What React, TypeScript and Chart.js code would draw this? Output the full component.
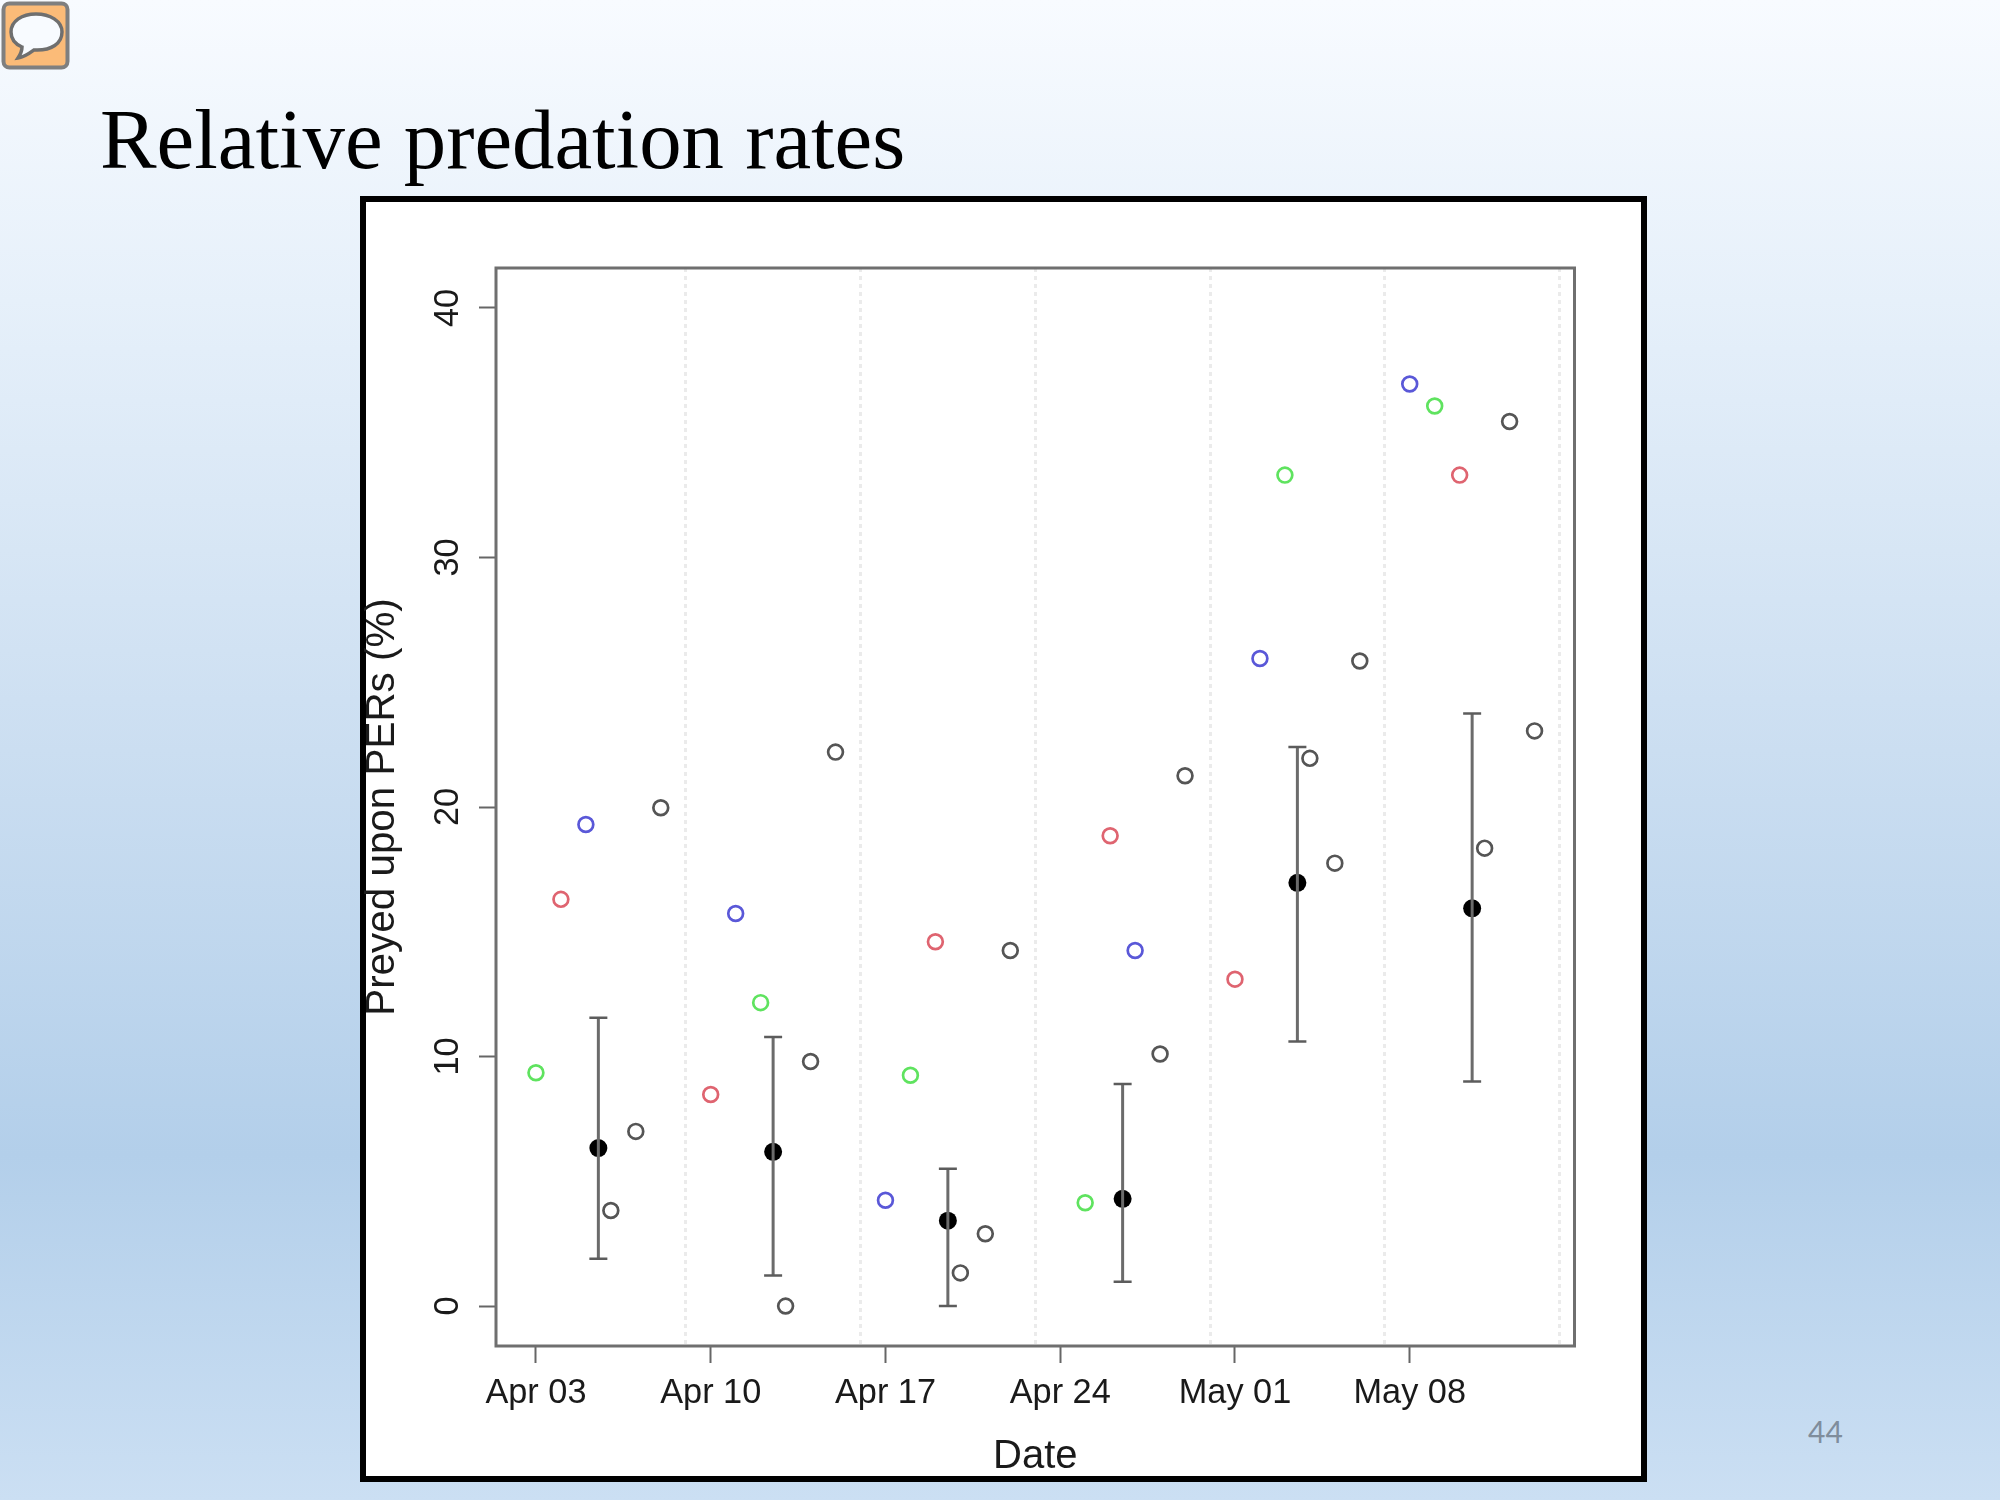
import React, { useEffect, useRef } from "react";
import { Chart, registerables } from "chart.js";

Chart.register(...registerables);

const PAGE_TITLE = "Relative predation rates";
const PAGE_NUMBER = "44";
const X_TITLE = "Date";
const Y_TITLE = "Preyed upon PERs (%)";

const tickDays = [0, 7, 14, 21, 28, 35];
const tickLabels = ["Apr 03", "Apr 10", "Apr 17", "Apr 24", "May 01", "May 08"];
const gridDays = [6, 13, 20, 27, 34, 41];
const yTicks = [0, 10, 20, 30, 40];

const greenPoints = [
  { x: 0, y: 9.35 }, { x: 9, y: 12.16 }, { x: 15, y: 9.25 },
  { x: 22, y: 4.14 }, { x: 30, y: 33.3 }, { x: 36, y: 36.07 },
];
const redPoints = [
  { x: 1, y: 16.3 }, { x: 7, y: 8.48 }, { x: 16, y: 14.6 },
  { x: 23, y: 18.85 }, { x: 28, y: 13.1 }, { x: 37, y: 33.3 },
];
const bluePoints = [
  { x: 2, y: 19.3 }, { x: 8, y: 15.73 }, { x: 14, y: 4.24 },
  { x: 24, y: 14.25 }, { x: 29, y: 25.95 }, { x: 35, y: 36.95 },
];
const grayPoints = [
  { x: 3, y: 3.83 }, { x: 4, y: 7.0 }, { x: 5, y: 19.97 },
  { x: 10, y: 0 }, { x: 11, y: 9.8 }, { x: 12, y: 22.2 },
  { x: 17, y: 1.33 }, { x: 18, y: 2.9 }, { x: 19, y: 14.25 },
  { x: 25, y: 10.1 }, { x: 26, y: 21.25 },
  { x: 31, y: 21.95 }, { x: 32, y: 17.75 }, { x: 33, y: 25.85 },
  { x: 38, y: 18.35 }, { x: 39, y: 35.45 }, { x: 40, y: 23.05 },
];
const meanDays = [2.5, 9.5, 16.5, 23.5, 30.5, 37.5];
const meanValues = [6.33, 6.18, 3.42, 4.3, 16.96, 15.94];
const lowValues = [1.9, 1.23, 0, 0.97, 10.6, 9.0];
const highValues = [11.55, 10.78, 5.5, 8.9, 22.4, 23.75];

const X_MIN = -1.6;
const X_MAX = 41.6;
const Y_MIN = -1.6;
const Y_MAX = 41.6;

const ring = (color: string) => ({
  showLine: false,
  pointStyle: "circle",
  pointRadius: 7.4,
  pointBorderWidth: 2.7,
  pointBorderColor: color,
  pointBackgroundColor: "rgba(0,0,0,0)",
});

const plotBox = {
  id: "plotBox",
  afterDraw(chart: any) {
    const { ctx, chartArea: a } = chart;
    ctx.save();
    ctx.strokeStyle = "#6f6f6f";
    ctx.lineWidth = 3;
    ctx.strokeRect(a.left, a.top, a.right - a.left, a.bottom - a.top);
    ctx.restore();
  },
};

export default function App() {
  const ref = useRef<HTMLCanvasElement | null>(null);

  useEffect(() => {
    document.body.style.margin = "0";
    const errorPoints: any[] = [];
    meanDays.forEach((d, i) => {
      errorPoints.push({ x: d, y: lowValues[i] }, { x: d, y: highValues[i] }, { x: d, y: null });
    });
    const chart = new Chart(ref.current as HTMLCanvasElement, {
      type: "scatter",
      plugins: [plotBox],
      data: {
        datasets: [
          {
            label: "Standard error",
            data: errorPoints,
            showLine: true,
            spanGaps: false,
            borderColor: "#6b6b6b",
            borderWidth: 3,
            pointStyle: "line",
            pointRadius: 9,
            pointBorderWidth: 2.5,
            pointBorderColor: "#5c5c5c",
          },
          { label: "Green", data: greenPoints, ...ring("#5fe35f") },
          { label: "Red", data: redPoints, ...ring("#df6470") },
          { label: "Blue", data: bluePoints, ...ring("#5a58d8") },
          { label: "Other", data: grayPoints, ...ring("#555555") },
          {
            label: "Mean",
            data: meanDays.map((d, i) => ({ x: d, y: meanValues[i] })),
            showLine: false,
            pointRadius: 9,
            pointBorderWidth: 0,
            pointBackgroundColor: "#000000",
          },
        ],
      } as any,
      options: {
        animation: false,
        responsive: false,
        devicePixelRatio: 1,
        layout: { padding: { left: 0, top: 268, right: 2000 - 1574.5, bottom: 0 } },
        plugins: { legend: { display: false }, tooltip: { enabled: false } },
        scales: {
          x: {
            type: "linear",
            min: X_MIN,
            max: X_MAX,
            afterBuildTicks: (s: any) => {
              s.ticks = tickDays.map((value) => ({ value }));
            },
            afterFit: (s: any) => {
              s.height = 154;
            },
            grid: { drawOnChartArea: false, drawTicks: true, tickLength: 17, tickColor: "#666666", tickWidth: 2 },
            border: { display: false },
            ticks: {
              autoSkip: false,
              maxRotation: 0,
              padding: 10,
              color: "#1a1a1a",
              font: { family: "'Liberation Sans'", size: 34.3 },
              callback: (v: any) => tickLabels[tickDays.indexOf(Number(v))],
            },
            title: {
              display: true,
              text: X_TITLE,
              color: "#1a1a1a",
              font: { family: "'Liberation Sans'", size: 40 },
              padding: { top: 0, bottom: 19 },
            },
          },
          grid: {
            type: "linear",
            position: "top",
            min: X_MIN,
            max: X_MAX,
            afterBuildTicks: (s: any) => {
              s.ticks = gridDays.map((value) => ({ value }));
            },
            afterFit: (s: any) => {
              s.height = 0;
            },
            grid: { drawOnChartArea: true, drawTicks: false, color: "#ebebeb", lineWidth: 3 },
            border: { display: false, dash: [4, 4] },
            ticks: { display: false },
          },
          y: {
            type: "linear",
            min: Y_MIN,
            max: Y_MAX,
            afterBuildTicks: (s: any) => {
              s.ticks = yTicks.map((value) => ({ value }));
            },
            afterFit: (s: any) => {
              s.width = 496;
            },
            grid: { drawOnChartArea: false, drawTicks: true, tickLength: 17, tickColor: "#666666", tickWidth: 2 },
            border: { display: false },
            ticks: {
              minRotation: 90,
              maxRotation: 90,
              crossAlign: "center",
              padding: 11,
              color: "#1a1a1a",
              font: { family: "'Liberation Sans'", size: 34.3 },
            },
            title: {
              display: true,
              text: Y_TITLE,
              color: "#1a1a1a",
              font: { family: "'Liberation Sans'", size: 40.4 },
              padding: { top: 359, bottom: 0 },
            },
          },
        },
      } as any,
    });
    return () => chart.destroy();
  }, []);

  return (
    <div
      style={{
        position: "relative",
        width: 2000,
        height: 1500,
        overflow: "hidden",
        background:
          "linear-gradient(180deg, #f8fbff 0%, #e6f0fa 20%, #cbdef1 50%, #b3cfea 77%, #cbdff3 100%)",
      }}
    >
      <svg width={72} height={72} style={{ position: "absolute", left: 0, top: 0 }}>
        <rect x={3.5} y={3.5} width={64} height={64} rx={6} fill="#fbbb78" stroke="#7f7f7f" strokeWidth={4} />
        <path
          d="M36 14C22 14 11 21 11 32C11 39 15 44 22 47C22 51 20 55 18 58C25 57 30 53 34 50C52 51 62 43 62 32C62 21 50 14 36 14Z"
          fill="#f8fbff"
          stroke="#6f6f6f"
          strokeWidth={3.5}
        />
      </svg>
      <div
        style={{
          position: "absolute",
          left: 100,
          top: 89,
          fontFamily: "'Liberation Serif'",
          fontSize: 84.8,
          lineHeight: "100px",
          color: "#000000",
          whiteSpace: "nowrap",
        }}
      >
        {PAGE_TITLE}
      </div>
      <div
        style={{
          position: "absolute",
          left: 360,
          top: 196,
          width: 1287,
          height: 1286,
          boxSizing: "border-box",
          border: "6px solid #000000",
          background: "#ffffff",
        }}
      />
      <div
        style={{
          position: "absolute",
          left: 1808,
          top: 1412,
          fontFamily: "Lato",
          fontSize: 30,
          lineHeight: "38px",
          color: "#7f8d9c",
        }}
      >
        {PAGE_NUMBER}
      </div>
      <canvas ref={ref} width={2000} height={1500} style={{ position: "absolute", left: 0, top: 0, display: "block" }} />
    </div>
  );
}
